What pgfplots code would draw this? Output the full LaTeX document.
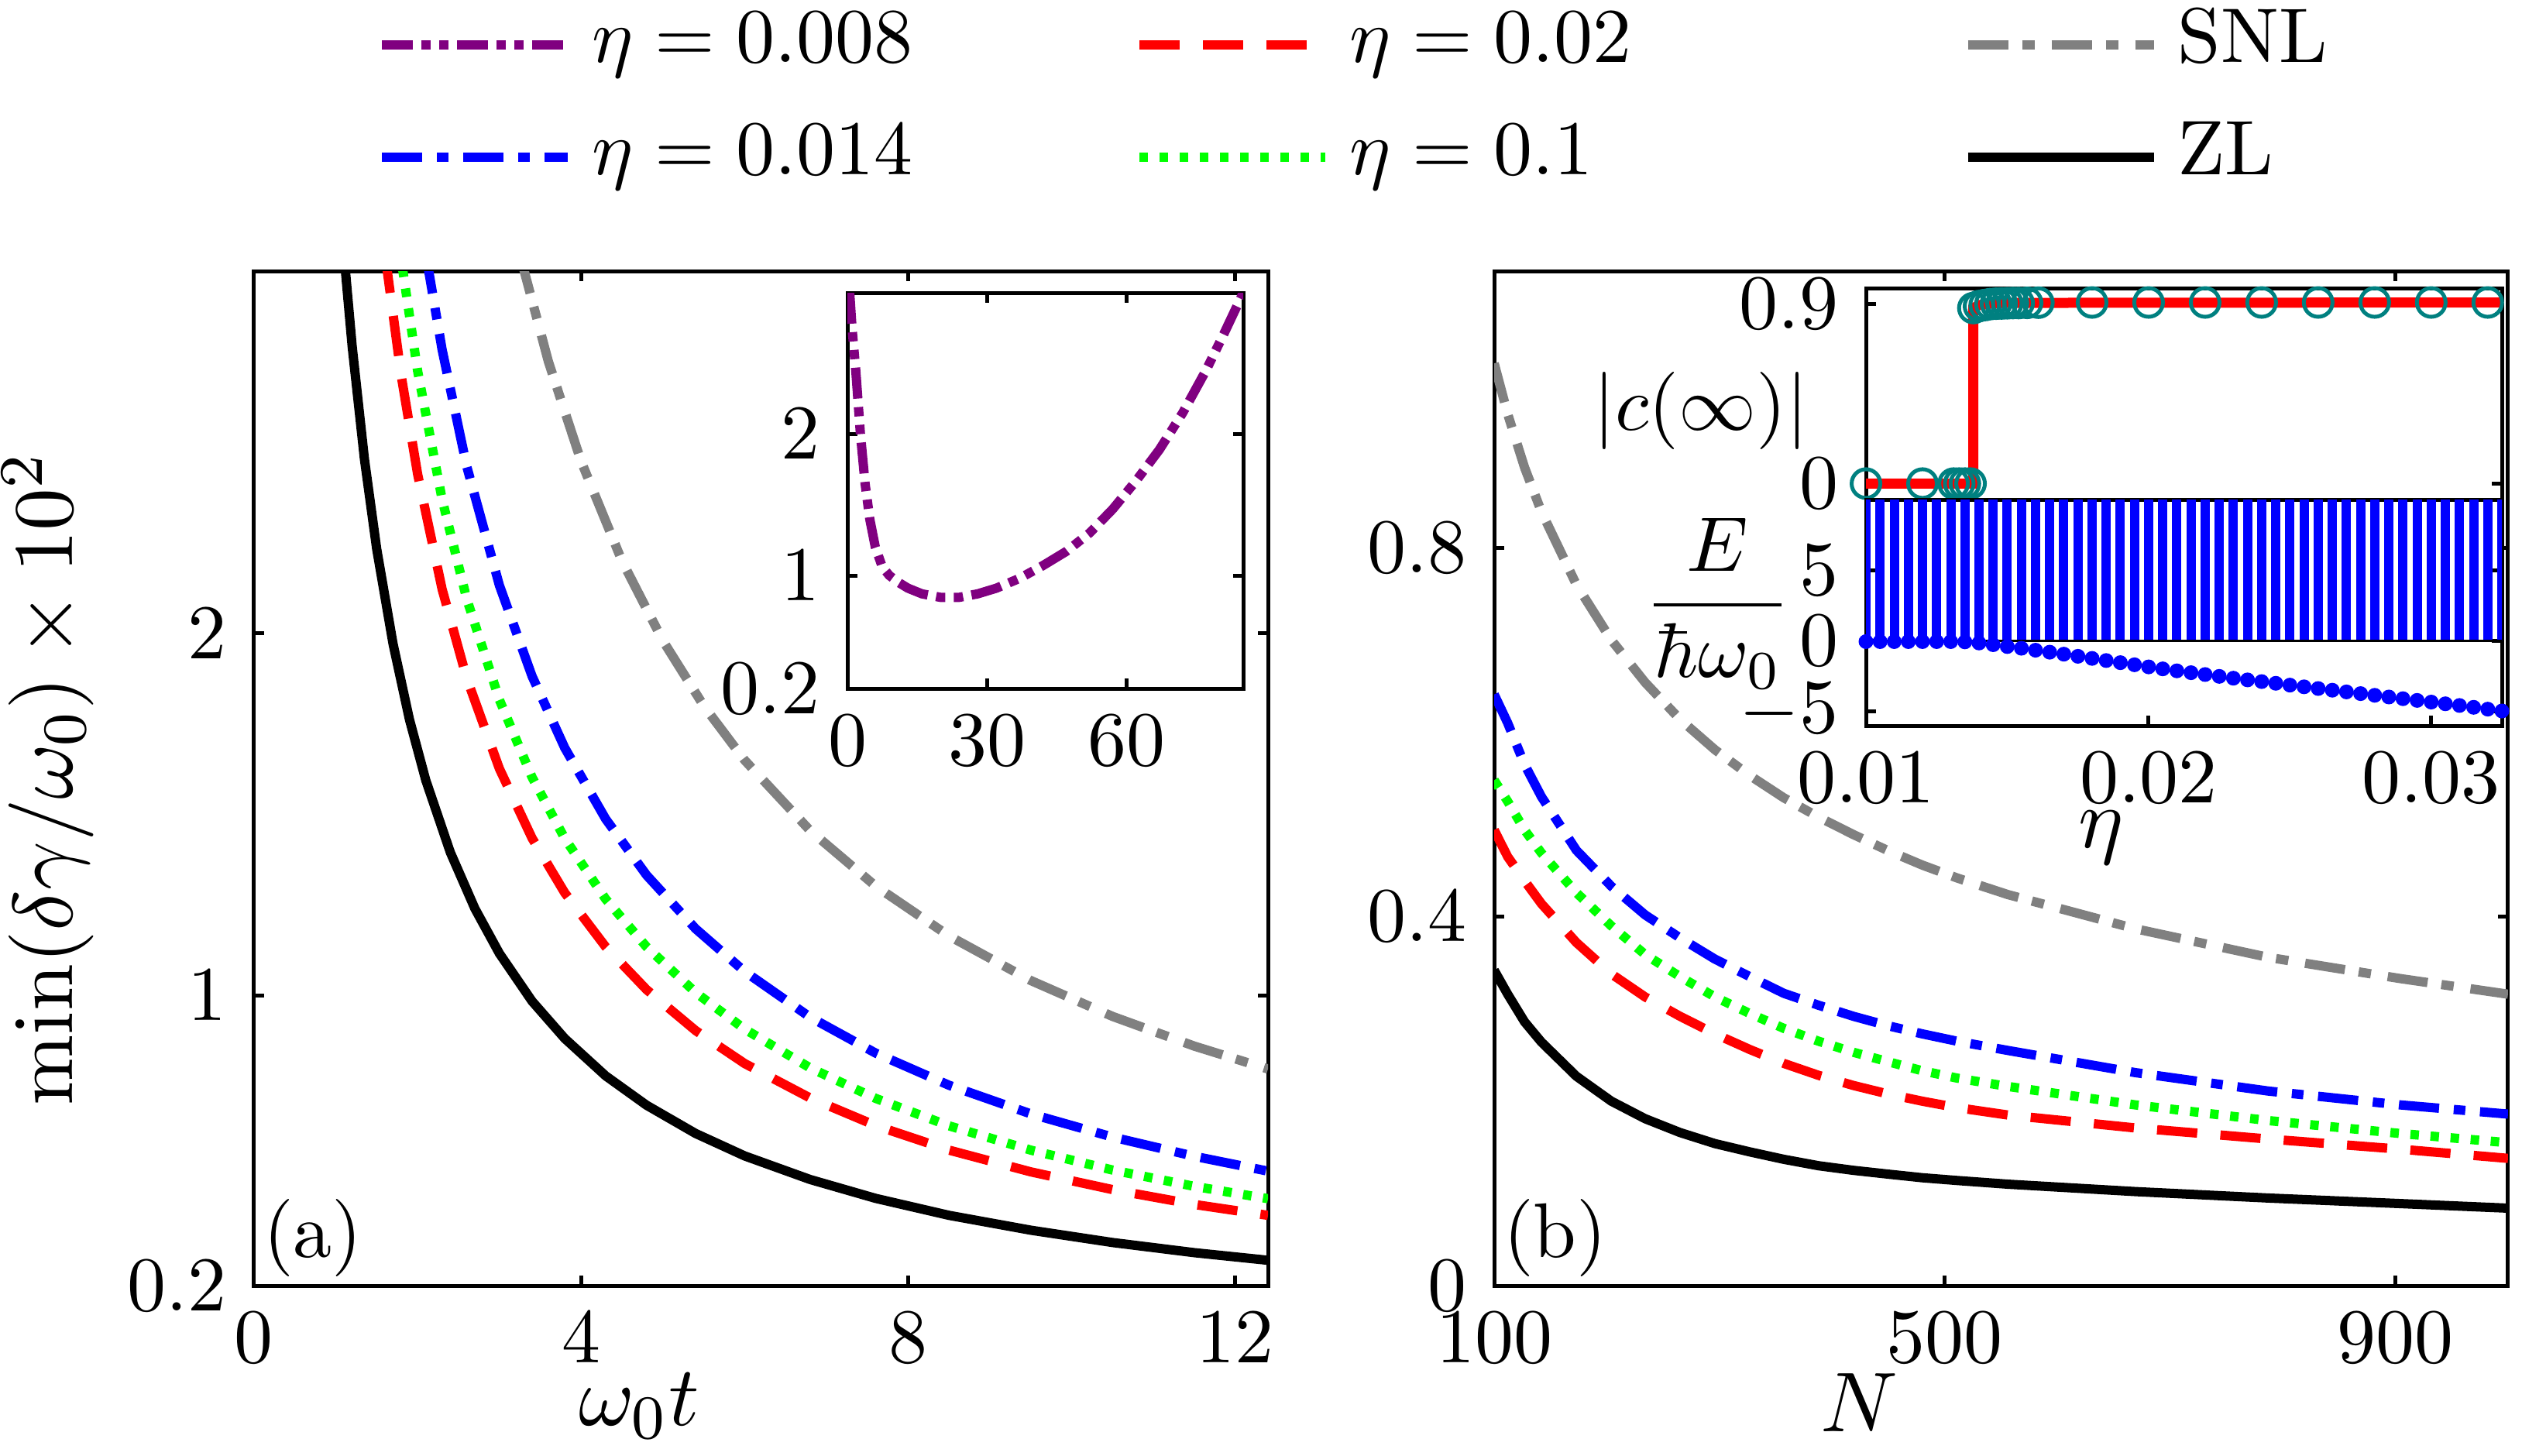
\documentclass[border=0pt]{standalone}
\usepackage{amsmath}
\usepackage{pgfplots}
\pgfplotsset{compat=1.18}
\definecolor{mpurple}{RGB}{128,0,128}
\definecolor{mgreen}{RGB}{0,255,0}
\definecolor{mgray}{RGB}{128,128,128}
\definecolor{mteal}{RGB}{0,128,128}
\pgfplotsset{
  mystyle/.style={
    scale only axis,
    axis line style={line width=0.5pt},
    every tick/.style={black, line width=0.5pt},
    major tick length=1.3pt,
    tick label style={font=\fontsize{10}{12}\selectfont},
    label style={font=\fontsize{11}{13}\selectfont},
    scaled ticks=false,
  },
  sZL/.style={black, line width=1.2pt, solid},
  sR/.style={red, line width=1.2pt, dash pattern=on 5.2pt off 3pt},
  sG/.style={mgreen, line width=1.2pt, dash pattern=on 1.1pt off 1.5pt},
  sB/.style={blue, line width=1.2pt, dash pattern=on 5.2pt off 1.9pt on 1.5pt off 1.9pt},
  sS/.style={mgray, line width=1.2pt, dash pattern=on 5.2pt off 1.8pt on 1.6pt off 2.2pt},
  sP/.style={mpurple, line width=1.2pt, dash pattern=on 4pt off 1.1pt on 1.2pt off 1.1pt on 1.2pt off 1.1pt},
}
\begin{document}
\begin{tikzpicture}
\useasboundingbox (-32.8pt,-21.9pt) rectangle (292.8pt,166pt);
% ---------------- panel (a) ----------------
\begin{axis}[mystyle, at={(0pt,0pt)}, anchor=south west, width=130.9pt, height=131pt,
  xmin=0, xmax=12.4, ymin=0.2, ymax=3,
  xtick={0,4,8,12}, ytick={0.2,1,2}, yticklabels={$0.2$,$1$,$2$},
  xlabel={$\omega_0 t$}, ylabel={$\min(\delta\gamma/\omega_0)\times 10^2$},
  xlabel style={at={(ticklabel cs:0.38)}}, xlabel shift=-5.5pt, ylabel shift=-2.5pt,
  legend columns=3, legend cell align=left,
  legend style={draw=none, fill=none, at={(axis description cs:0,1)}, anchor=north west,
    xshift=15.7pt, yshift=34.7pt, inner sep=0pt, font=\fontsize{10}{12}\selectfont,
    nodes={inner sep=0.5pt, text height=0.7em, text depth=0.25em},
    row sep=4pt,
    /tikz/every odd column/.style={column sep=2pt},
    /tikz/column 2/.style={column sep=28.2pt},
    /tikz/column 4/.style={column sep=42.3pt}},
  legend image code/.code={\draw[#1] (0pt,0pt) -- (24pt,0pt);},
]
\addlegendimage{sP}\addlegendentry{$\eta=0.008$}
\addlegendimage{sR}\addlegendentry{$\eta=0.02$}
\addlegendimage{sS}\addlegendentry{SNL}
\addlegendimage{sB}\addlegendentry{$\eta=0.014$}
\addlegendimage{sG}\addlegendentry{$\eta=0.1$}
\addlegendimage{sZL}\addlegendentry{ZL}
\addplot[sS, forget plot] coordinates {(3.25,3.046) (3.6,2.750) (4.0,2.475) (4.5,2.200) (5.0,1.980) (5.5,1.800) (6.0,1.650) (6.8,1.456) (7.6,1.303) (8.5,1.165) (9.5,1.042) (10.5,0.943) (11.5,0.861) (12.4,0.798)};
\addplot[sB, forget plot] coordinates {(2.1,3.048) (2.3,2.783) (2.6,2.462) (3.0,2.133) (3.4,1.882) (3.8,1.684) (4.3,1.488) (4.8,1.333) (5.4,1.185) (6.0,1.067) (6.8,0.941) (7.6,0.842) (8.5,0.753) (9.5,0.674) (10.5,0.610) (11.5,0.557) (12.4,0.516)};
\addplot[sG, forget plot] coordinates {(1.78,3.062) (2.0,2.725) (2.3,2.370) (2.6,2.096) (3.0,1.817) (3.4,1.603) (3.8,1.434) (4.3,1.267) (4.8,1.135) (5.4,1.009) (6.0,0.908) (6.8,0.801) (7.6,0.717) (8.5,0.641) (9.5,0.574) (10.5,0.519) (11.5,0.474) (12.4,0.440)};
\addplot[sR, forget plot] coordinates {(1.6,3.050) (1.8,2.711) (2.0,2.440) (2.3,2.122) (2.6,1.877) (3.0,1.627) (3.4,1.435) (3.8,1.284) (4.3,1.135) (4.8,1.017) (5.4,0.904) (6.0,0.813) (6.8,0.718) (7.6,0.642) (8.5,0.574) (9.5,0.514) (10.5,0.465) (11.5,0.424) (12.4,0.394)};
\addplot[sZL, forget plot] coordinates {(1.1,3.045) (1.2,2.792) (1.35,2.481) (1.5,2.233) (1.7,1.971) (1.9,1.763) (2.1,1.595) (2.4,1.396) (2.7,1.241) (3.0,1.117) (3.4,0.985) (3.8,0.882) (4.3,0.779) (4.8,0.698) (5.4,0.620) (6.0,0.558) (6.8,0.493) (7.6,0.441) (8.5,0.394) (9.5,0.353) (10.5,0.319) (11.5,0.291) (12.4,0.270)};
\node[anchor=south west, inner sep=1pt, font=\fontsize{10}{12}\selectfont] at (rel axis cs:0,0) {(a)};
\end{axis}
% ---------------- inset (a) ----------------
\begin{axis}[mystyle, at={(76.6pt,77.1pt)}, anchor=south west, width=51.1pt, height=51.1pt,
  xmin=0, xmax=85, ymin=0.2, ymax=3,
  xtick={0,30,60}, ytick={0.2,1,2}, yticklabels={$0.2$,$1$,$2$},
  axis background/.style={fill=white}]
\addplot[sP] coordinates {(0.5,3.0) (1.0,2.75) (1.8,2.45) (2.8,2.0) (3.8,1.65) (4.8,1.40) (6.0,1.20) (7.5,1.06) (9.0,1.00) (11,0.95) (13,0.91) (16,0.87) (20,0.845) (24,0.845) (28,0.87) (32,0.91) (37,0.98) (42,1.07) (47,1.17) (52,1.30) (57,1.47) (62,1.67) (67,1.89) (72,2.15) (77,2.45) (81,2.72) (85,3.0)};
\end{axis}
% ---------------- panel (b) ----------------
\begin{axis}[mystyle, at={(160.1pt,0pt)}, anchor=south west, width=130.9pt, height=131pt,
  xmin=100, xmax=1000, ymin=0, ymax=1.1,
  xtick={100,500,900}, ytick={0,0.4,0.8}, yticklabels={$0$,$0.4$,$0.8$},
  xlabel={$N$}, xlabel style={at={(ticklabel cs:0.36)}}, xlabel shift=-5.5pt]
\addplot[sS] coordinates {(100,1.0) (112,0.945) (127,0.887) (142,0.839) (173,0.760) (204,0.700) (234,0.654) (265,0.614) (296,0.581) (327,0.553) (357,0.529) (388,0.508) (419,0.489) (449,0.472) (480,0.456) (511,0.442) (556,0.424) (669,0.387) (787,0.356) (904,0.333) (1000,0.316)};
\addplot[sB] coordinates {(100,0.641) (112,0.610) (127,0.565) (142,0.530) (173,0.472) (204,0.433) (234,0.402) (265,0.377) (296,0.354) (327,0.335) (357,0.317) (388,0.304) (419,0.292) (449,0.282) (480,0.273) (511,0.265) (556,0.255) (669,0.231) (787,0.211) (904,0.196) (1000,0.186)};
\addplot[sG] coordinates {(100,0.548) (112,0.525) (127,0.494) (142,0.469) (173,0.426) (204,0.390) (234,0.359) (265,0.335) (296,0.313) (327,0.295) (357,0.279) (388,0.265) (419,0.253) (449,0.243) (480,0.233) (511,0.225) (556,0.216) (669,0.196) (787,0.179) (904,0.165) (1000,0.155)};
\addplot[sR] coordinates {(100,0.494) (112,0.465) (127,0.439) (142,0.414) (173,0.372) (204,0.338) (234,0.313) (265,0.292) (296,0.273) (327,0.256) (357,0.241) (388,0.228) (419,0.217) (449,0.208) (480,0.200) (511,0.193) (556,0.185) (669,0.171) (787,0.159) (904,0.148) (1000,0.138)};
\addplot[sZL] coordinates {(100,0.342) (112,0.316) (127,0.286) (142,0.264) (173,0.227) (204,0.200) (234,0.181) (265,0.166) (296,0.154) (327,0.145) (357,0.137) (388,0.130) (419,0.125) (449,0.121) (480,0.117) (511,0.114) (556,0.110) (669,0.102) (787,0.095) (904,0.089) (1000,0.084)};
\node[anchor=south west, inner sep=1pt, font=\fontsize{10}{12}\selectfont] at (rel axis cs:0,0) {(b)};
\end{axis}
% ---------------- inset (b) upper ----------------
\begin{axis}[mystyle, at={(208.1pt,101.5pt)}, anchor=south west, width=82.1pt, height=27.3pt,
  xmin=0.01, xmax=0.0325, ymin=-0.08, ymax=0.98,
  xtick=\empty, ytick={0,0.9}, yticklabels={$0$,$0.9$},
  ylabel={$|c(\infty)|$},
  ylabel style={rotate=-90, at={(rel axis cs:0,0.42)}, anchor=east, inner sep=0pt, xshift=-7.3pt, font=\fontsize{10}{12}\selectfont},
  axis background/.style={fill=white}]
\addplot[red, line width=1.3pt] coordinates {(0.0100,0) (0.0138,0) (0.0138,0.88) (0.0140,0.895) (0.0145,0.903) (0.0150,0.906) (0.0325,0.908)};
\addplot[only marks, mark=o, mark size=1.85pt, mteal, line width=0.5pt] coordinates {(0.0100,0) (0.0120,0) (0.0131,0) (0.0133,0) (0.0135,0) (0.0137,0) (0.0138,0.88) (0.0140,0.89) (0.0142,0.895) (0.0144,0.90) (0.0146,0.902) (0.0148,0.903) (0.0150,0.904) (0.0152,0.905) (0.0154,0.905) (0.0157,0.906) (0.0161,0.907) (0.018,0.908) (0.020,0.908) (0.022,0.908) (0.024,0.908) (0.026,0.908) (0.028,0.908) (0.030,0.908) (0.032,0.908)};
\end{axis}
% ---------------- inset (b) lower ----------------
\begin{axis}[mystyle, at={(208.1pt,72.3pt)}, anchor=south west, width=82.1pt, height=29.2pt,
  xmin=0.01, xmax=0.0325, ymin=-6, ymax=10,
  xtick={0.01,0.02,0.03}, xticklabels={$0.01$,$0.02$,$0.03$},
  ytick={-5,0,5}, yticklabels={$-5$,$0$,$5$},
  xlabel={$\eta$}, xlabel style={at={(ticklabel cs:0.37)}}, xlabel shift=-5.8pt,
  ylabel={$\dfrac{E}{\hbar\omega_0}$},
  ylabel style={rotate=-90, at={(rel axis cs:0,0.54)}, anchor=east, inner sep=0pt, xshift=-9.5pt, font=\fontsize{10}{12}\selectfont},
  axis background/.style={fill=white}]
\addplot[blue, line width=1.2pt, ycomb] coordinates {(0.0100,11) (0.0105,11) (0.0110,11) (0.0115,11) (0.0120,11) (0.0125,11) (0.0130,11) (0.0135,11) (0.0140,11) (0.0145,11) (0.0150,11) (0.0155,11) (0.0160,11) (0.0165,11) (0.0170,11) (0.0175,11) (0.0180,11) (0.0185,11) (0.0190,11) (0.0195,11) (0.0200,11) (0.0205,11) (0.0210,11) (0.0215,11) (0.0220,11) (0.0225,11) (0.0230,11) (0.0235,11) (0.0240,11) (0.0245,11) (0.0250,11) (0.0255,11) (0.0260,11) (0.0265,11) (0.0270,11) (0.0275,11) (0.0280,11) (0.0285,11) (0.0290,11) (0.0295,11) (0.0300,11) (0.0305,11) (0.0310,11) (0.0315,11) (0.0320,11) (0.0325,11)};
\addplot[black, line width=0.3pt] coordinates {(0.01,0) (0.0325,0)};
\addplot[only marks, mark=*, mark size=0.75pt, blue] coordinates {(0.0100,-0.05) (0.0105,-0.05) (0.0110,-0.05) (0.0115,-0.05) (0.0120,-0.05) (0.0125,-0.05) (0.0130,-0.05) (0.0135,-0.07) (0.0140,-0.15) (0.0145,-0.27) (0.0150,-0.40) (0.0155,-0.52) (0.0160,-0.66) (0.0165,-0.80) (0.0170,-0.94) (0.0175,-1.09) (0.0180,-1.24) (0.0185,-1.39) (0.0190,-1.54) (0.0195,-1.69) (0.0200,-1.84) (0.0205,-1.98) (0.0210,-2.12) (0.0215,-2.25) (0.0220,-2.38) (0.0225,-2.51) (0.0230,-2.64) (0.0235,-2.76) (0.0240,-2.88) (0.0245,-3.00) (0.0250,-3.13) (0.0255,-3.25) (0.0260,-3.37) (0.0265,-3.49) (0.0270,-3.61) (0.0275,-3.73) (0.0280,-3.85) (0.0285,-3.97) (0.0290,-4.09) (0.0295,-4.21) (0.0300,-4.33) (0.0305,-4.45) (0.0310,-4.57) (0.0315,-4.70) (0.0320,-4.83) (0.0325,-4.96)};
\end{axis}
\end{tikzpicture}
\end{document}
